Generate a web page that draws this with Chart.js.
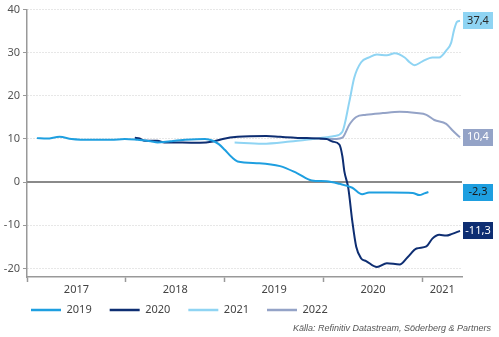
<!DOCTYPE html>
<html>
<head>
<meta charset="utf-8">
<script src="https://cdn.jsdelivr.net/npm/chart.js@4/dist/chart.umd.min.js"></script>
<style>
  html, body { margin: 0; padding: 0; background: #fff; }
  #wrap { position: relative; width: 499px; height: 337px; }
</style>
</head>
<body>
<div id="wrap"><canvas id="chart"></canvas></div>
<script>
// ── Data (x = decimal year, y = value) ─────────────────────
const seriesNames  = ["2019", "2020", "2021", "2022"];
const seriesColors = ["#1e9fe0", "#0e2e72", "#8fd4f3", "#94a3c7"];

const t2019 = [2017.10, 2017.20, 2017.33, 2017.45, 2017.66, 2017.85, 2017.99, 2018.12, 2018.25, 2018.32, 2018.45, 2018.60, 2018.80, 2018.88, 2018.94, 2019.00, 2019.07, 2019.13, 2019.35, 2019.56, 2019.73, 2019.88, 2020.03, 2020.16, 2020.29, 2020.39, 2020.46, 2020.67, 2020.90, 2020.97, 2021.02, 2021.06];
const v2019 = [10.2, 10.1, 10.5, 10.0, 9.8, 9.8, 10.0, 9.8, 9.5, 9.2, 9.5, 9.8, 10.0, 9.6, 8.8, 7.5, 5.8, 4.8, 4.4, 3.7, 2.1, 0.4, 0.2, -0.4, -1.3, -2.8, -2.4, -2.4, -2.5, -3.0, -2.6, -2.3];

const t2020 = [2018.09, 2018.14, 2018.19, 2018.32, 2018.39, 2018.57, 2018.75, 2018.88, 2018.98, 2019.13, 2019.42, 2019.56, 2019.83, 2020.03, 2020.09, 2020.16, 2020.19, 2020.21, 2020.25, 2020.29, 2020.33, 2020.38, 2020.43, 2020.54, 2020.64, 2020.77, 2020.85, 2020.94, 2021.04, 2021.10, 2021.17, 2021.24, 2021.30, 2021.38];
const v2020 = [10.3, 10.1, 9.6, 9.6, 9.2, 9.2, 9.1, 9.4, 10.0, 10.5, 10.7, 10.5, 10.2, 10.0, 9.4, 8.7, 6.0, 2.5, -1.4, -9.0, -15.0, -17.7, -18.3, -19.7, -18.8, -19.1, -17.4, -15.4, -14.9, -13.1, -12.2, -12.4, -12.0, -11.3];

const t2021 = [2019.10, 2019.38, 2019.66, 2019.89, 2020.03, 2020.11, 2020.19, 2020.26, 2020.31, 2020.38, 2020.46, 2020.54, 2020.64, 2020.72, 2020.82, 2020.87, 2020.92, 2021.00, 2021.10, 2021.17, 2021.24, 2021.29, 2021.32, 2021.35, 2021.38];
const v2021 = [9.2, 8.9, 9.4, 10.0, 10.4, 10.7, 11.7, 18.6, 24.2, 27.8, 28.9, 29.6, 29.4, 29.9, 28.9, 27.8, 27.1, 28.0, 28.9, 28.9, 30.5, 32.3, 35.3, 37.2, 37.4];

const t2022 = [2019.96, 2020.13, 2020.19, 2020.26, 2020.33, 2020.43, 2020.60, 2020.77, 2020.94, 2021.04, 2021.12, 2021.24, 2021.30, 2021.35, 2021.38];
const v2022 = [10.0, 10.0, 10.3, 13.3, 15.1, 15.6, 16.0, 16.3, 16.0, 15.6, 14.4, 13.5, 12.1, 11.0, 10.4];

const yTicks      = [-20, -10, 0, 10, 20, 30, 40];
const yearBounds  = [2017, 2018, 2019, 2020, 2021];
const yearLabelAt = [2017.5, 2018.5, 2019.5, 2020.5, 2021.2];
const yearLabels  = ["2017", "2018", "2019", "2020", "2021"];

const boxTextColors = ["#1a1a1a", "#ffffff", "#2a2a2a", "#ffffff"];
const sourceText = "Källa: Refinitiv Datastream, Söderberg & Partners";

const times  = [t2019, t2020, t2021, t2022];
const values = [v2019, v2020, v2021, v2022];

const FONT = "'Noto Sans', 'Open Sans', sans-serif";

// zero line, end-value boxes, legend row and source note
const extrasPlugin = {
  id: "extras",
  beforeDatasetsDraw(chart) {
    const { ctx, chartArea, scales } = chart;
    const y0 = scales.y.getPixelForValue(0);
    ctx.save();
    ctx.strokeStyle = "#8a8a8a";
    ctx.lineWidth = 2;
    ctx.beginPath();
    ctx.moveTo(chartArea.left, y0);
    ctx.lineTo(chartArea.right, y0);
    ctx.stroke();
    ctx.restore();
  },
  afterDraw(chart) {
    const { ctx, chartArea, scales } = chart;
    ctx.save();
    ctx.font = "11px " + FONT;
    ctx.textAlign = "center";
    ctx.textBaseline = "middle";

    // value boxes at the right edge
    values.forEach((vals, i) => {
      const last = vals[vals.length - 1];
      const y = scales.y.getPixelForValue(last);
      const x = chartArea.right + 1;
      ctx.fillStyle = seriesColors[i];
      ctx.fillRect(x, Math.round(y - 8.5), 30, 17);
      ctx.fillStyle = boxTextColors[i];
      ctx.fillText(last.toFixed(1).replace(".", ","), x + 15, y);
    });

    // legend
    let lx = 31;
    const ly = 310;
    ctx.textAlign = "left";
    chart.data.datasets.forEach(ds => {
      ctx.strokeStyle = ds.borderColor;
      ctx.lineWidth = 2.5;
      ctx.beginPath();
      ctx.moveTo(lx, ly);
      ctx.lineTo(lx + 30, ly);
      ctx.stroke();
      ctx.fillStyle = "#444";
      ctx.fillText(ds.label, lx + 35.5, ly);
      lx += 35.5 + ctx.measureText(ds.label).width + 18;
    });

    ctx.font = "italic 9px 'Liberation Sans', sans-serif";
    ctx.fillStyle = "#555";
    ctx.textAlign = "right";
    ctx.fillText(sourceText, 491, 328);
    ctx.restore();
  }
};

new Chart(document.getElementById("chart").getContext("2d"), {
  type: "line",
  data: {
    datasets: seriesNames.map((name, i) => ({
      label: name,
      data: times[i].map((t, k) => ({ x: t, y: values[i][k] })),
      borderColor: seriesColors[i],
      backgroundColor: seriesColors[i],
      borderWidth: 2,
      pointRadius: 0,
      cubicInterpolationMode: "monotone",
      fill: false
    }))
  },
  options: {
    responsive: true,
    maintainAspectRatio: false,
    animation: false,
    devicePixelRatio: 1,
    layout: { padding: { left: 0, right: 37, top: 7, bottom: 40 } },
    plugins: {
      legend: { display: false },
      tooltip: { enabled: false }
    },
    scales: {
      x: {
        type: "linear",
        min: 2017,
        max: 2021.4,
        afterFit(scale) { scale.height = 20; },
        afterBuildTicks(scale) {
          scale.ticks = yearBounds.concat(yearLabelAt)
            .sort((a, b) => a - b)
            .map(v => ({ value: v }));
        },
        ticks: {
          autoSkip: false,
          maxRotation: 0,
          padding: 1,
          color: "#444",
          font: { family: FONT, size: 11 },
          callback(value) {
            const k = yearLabelAt.indexOf(value);
            return k >= 0 ? yearLabels[k] : "";
          }
        },
        grid: {
          drawOnChartArea: false,
          tickLength: 5,
          tickWidth: 1.5,
          tickColor: ctx => (ctx.tick && yearBounds.includes(ctx.tick.value)) ? "#999" : "rgba(0,0,0,0)"
        },
        border: { color: "#999", width: 1.5 }
      },
      y: {
        min: -22,
        max: 40,
        afterFit(scale) { scale.width = 27; },
        afterBuildTicks(scale) {
          scale.ticks = yTicks.map(v => ({ value: v }));
        },
        ticks: {
          padding: 3,
          color: "#555",
          font: { family: FONT, size: 11 }
        },
        grid: {
          color: ctx => (ctx.tick && ctx.tick.value === 0) ? "rgba(0,0,0,0)" : "#cfcfcf",
          lineWidth: 1,
          tickLength: 4,
          tickColor: "#999"
        },
        border: { color: "#999", width: 1.5, dash: [1, 2] }
      }
    }
  },
  plugins: [extrasPlugin]
});
</script>
</body>
</html>
